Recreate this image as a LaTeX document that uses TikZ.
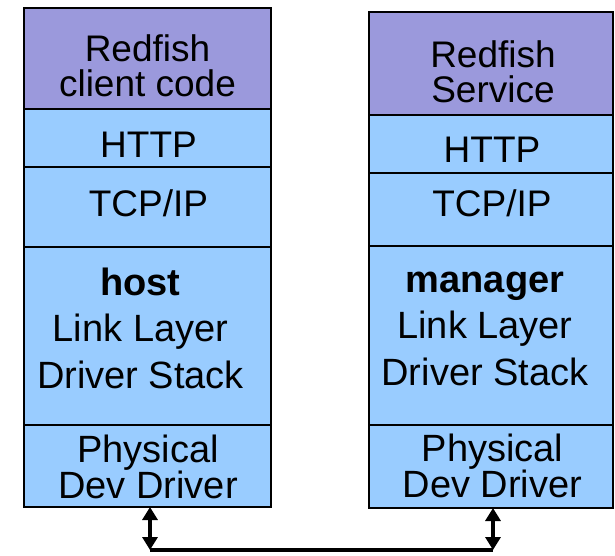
\documentclass[tikz,border=0pt]{standalone}
\usepackage{fontspec}
\setmainfont{Liberation Sans}
\usetikzlibrary{arrows.meta}
\definecolor{purplefill}{RGB}{155,153,220}
\definecolor{bluefill}{RGB}{153,204,255}
\tikzset{
  layer/.style={draw=black, line width=2.2pt, anchor=north west, inner sep=0pt, outer sep=0pt},
  toplayer/.style={layer, fill=purplefill},
  lowlayer/.style={layer, fill=bluefill},
  twoline/.style={align=center, inner sep=0pt, anchor=base, font={\fontsize{37}{35.5}\selectfont}},
  botline/.style={align=center, inner sep=0pt, anchor=base, font={\fontsize{38}{36}\selectfont}},
  threeline/.style={align=center, inner sep=0pt, anchor=base, font={\fontsize{38}{46.5}\selectfont}},
  conn/.style={line width=4pt},
  biarrow/.style={conn, {Triangle[width=15pt,length=13pt]}-{Triangle[width=15pt,length=13pt]}}
}
\begin{document}
\begin{tikzpicture}[x=1pt,y=-1pt]
\useasboundingbox (0,0) rectangle (615,556);
% left stack
\node[toplayer, minimum width=247, minimum height=101] (l1) at (24,8) {};
\node[lowlayer, minimum width=247, minimum height=58] (l2) at (24,109) {};
\node[lowlayer, minimum width=247, minimum height=80] (l3) at (24,167) {};
\node[lowlayer, minimum width=247, minimum height=178] (l4) at (24,247) {};
\node[lowlayer, minimum width=247, minimum height=82] (l5) at (24,425) {};
% right stack
\node[toplayer, minimum width=244, minimum height=103] (r1) at (369,12) {};
\node[lowlayer, minimum width=244, minimum height=58] (r2) at (369,115) {};
\node[lowlayer, minimum width=244, minimum height=73] (r3) at (369,173) {};
\node[lowlayer, minimum width=244, minimum height=179] (r4) at (369,246) {};
\node[lowlayer, minimum width=244, minimum height=83] (r5) at (369,425) {};
% left texts (anchor = baseline of last line)
\node[twoline] (lt1) at (147.5,97) {Redfish\\client code};
\node[twoline] (lt2) at (148.5,157.3) {HTTP};
\node[twoline] (lt3) at (148.5,216.7) {TCP/IP};
\node[threeline] (lt4) at (140.5,388) {\textbf{host}\\Link Layer\\Driver Stack};
\node[botline] (lt5) at (148,498) {Physical\\Dev Driver};
% right texts
\node[twoline] (rt1) at (493,103) {Redfish\\Service};
\node[twoline] (rt2) at (492,163) {HTTP};
\node[twoline] (rt3) at (492,216) {TCP/IP};
\node[threeline] (rt4) at (485,385) {\textbf{manager}\\Link Layer\\Driver Stack};
\node[botline] (rt5) at (492.5,497) {Physical\\Dev Driver};
% connection
\coordinate (j1) at (150,550);
\coordinate (j2) at (493,550);
\draw[conn] (j1) -- (j2);
\draw[biarrow] (l5.south -| j1) -- (j1);
\draw[biarrow] (r5.south -| j2) -- (j2);
\end{tikzpicture}
\end{document}
